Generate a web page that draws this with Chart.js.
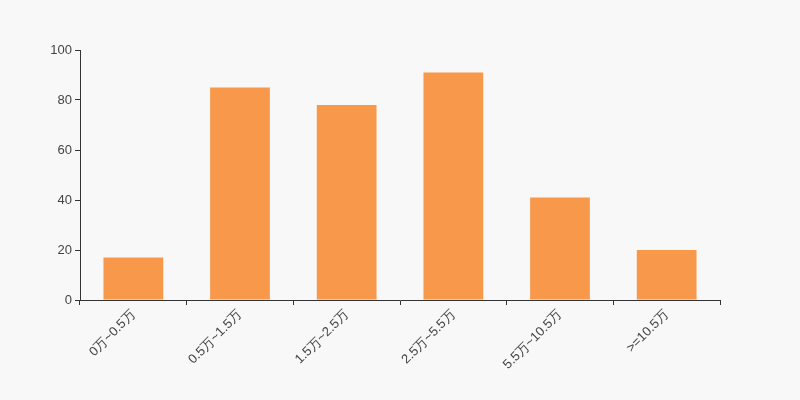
<!DOCTYPE html>
<html><head><meta charset="utf-8">
<script src="https://cdn.jsdelivr.net/npm/chart.js@4/dist/chart.umd.min.js"></script>
<style>html,body{margin:0;padding:0;background:#f8f8f8;}#wrap{width:800px;height:400px;}</style>
</head><body><div id="wrap"><canvas id="c" width="800" height="400"></canvas></div>
<script>
const categories = ["0万~0.5万","0.5万~1.5万","1.5万~2.5万","2.5万~5.5万","5.5万~10.5万",">=10.5万"];
const values = [17, 85, 78, 91, 41, 20];
const yTicks = [0, 20, 40, 60, 80, 100];

const font = {family: "'Liberation Sans', Arial, sans-serif", size: 13};
new Chart(document.getElementById('c'), {
  type: 'bar',
  data: {labels: categories, datasets: [{data: values, backgroundColor: '#f7984a', categoryPercentage: 1, barPercentage: 0.56}]},
  options: {
    responsive: false, animation: false,
    layout: {padding: {top: 50, right: 80, left: 0, bottom: 0}},
    plugins: {legend: {display: false}, tooltip: {enabled: false}},
    scales: {
      x: {
        grid: {display: true, drawOnChartArea: false, drawTicks: true, tickLength: 5, color: '#333', offset: true},
        border: {color: '#333'},
        ticks: {color: '#444', font: font, maxRotation: 45, minRotation: 45, autoSkip: false, padding: 2},
        afterFit: s => { s.height = 100; }
      },
      y: {
        min: 0, max: 100,
        afterBuildTicks: s => { s.ticks = yTicks.map(v => ({value: v})); },
        grid: {display: true, drawOnChartArea: false, drawTicks: true, tickLength: 5, color: '#333'},
        border: {color: '#333'},
        ticks: {color: '#444', font: font, padding: 3},
        afterFit: s => { s.width = 80; }
      }
    }
  }
});
</script></body></html>
